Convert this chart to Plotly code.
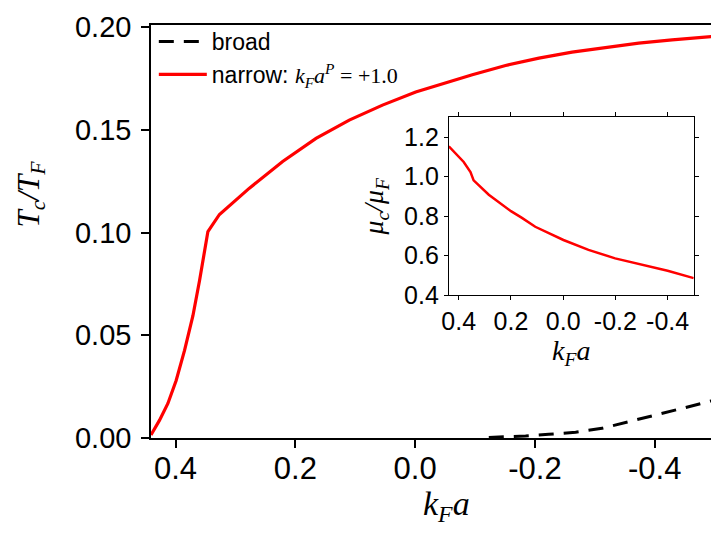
import plotly.graph_objects as go

# ---- data ----
k_narrow = [0.441, 0.4267, 0.4128, 0.399, 0.385, 0.371, 0.36, 0.3517, 0.346, 0.3267,
            0.2767, 0.2212, 0.1655, 0.11, 0.0545, -0.001, -0.04, -0.0955, -0.151,
            -0.2067, -0.262, -0.3178, -0.3733, -0.429, -0.499]
tc_narrow = [0.0015, 0.0087, 0.0168, 0.028, 0.0426, 0.0595, 0.0765, 0.091, 0.1005, 0.1088,
             0.1216, 0.1346, 0.1458, 0.1547, 0.162, 0.1684, 0.172, 0.1768, 0.1813,
             0.1849, 0.1878, 0.1902, 0.1922, 0.1938, 0.1955]

k_broad = [-0.123, -0.1845, -0.223, -0.268, -0.312, -0.357, -0.401, -0.4455, -0.499]
tc_broad = [0.0003, 0.001, 0.0018, 0.0028, 0.0047, 0.0079, 0.0111, 0.0144, 0.0184]

k_inset = [0.438, 0.381, 0.355, 0.343, 0.285, 0.2214, 0.2, 0.158, 0.107, -0.001,
           -0.097, -0.199, -0.301, -0.4, -0.5]
mu_inset = [1.153, 1.074, 1.023, 0.981, 0.908, 0.847, 0.825, 0.791, 0.746, 0.679,
            0.629, 0.586, 0.553, 0.523, 0.486]

main_yticks = [0.0, 0.05, 0.10, 0.15, 0.20]
main_yticklabels = ["0.00", "0.05", "0.10", "0.15", "0.20"]
xticks = [0.4, 0.2, 0.0, -0.2, -0.4]
xticklabels = ["0.4", "0.2", "0.0", "-0.2", "-0.4"]
inset_yticks = [0.4, 0.6, 0.8, 1.0, 1.2]
inset_yticklabels = ["0.4", "0.6", "0.8", "1.0", "1.2"]

SANS = "Liberation Sans, Arial, sans-serif"
SERIF = "Liberation Serif, Times New Roman, serif"

fig = go.Figure()
fig.add_trace(go.Scatter(x=k_broad, y=tc_broad, mode="lines", name="broad",
                         line=dict(color="black", width=3, dash="15px,10px"),
                         xaxis="x", yaxis="y"))
fig.add_trace(go.Scatter(
    x=k_narrow, y=tc_narrow, mode="lines",
    name=("narrow: <span style='font-family:Liberation Serif;font-size:22px'>"
          "<i>k</i><sub><i>F</i></sub><i>a</i><sup><i>P</i></sup> = +1.0</span>"),
    line=dict(color="#ff0000", width=3.2), xaxis="x", yaxis="y"))
fig.add_trace(go.Scatter(x=k_inset, y=mu_inset, mode="lines", showlegend=False,
                         line=dict(color="#ff0000", width=2.5), xaxis="x2", yaxis="y2"))

axcommon = dict(showgrid=False, zeroline=False, linecolor="black", tickcolor="black",
                showline=True)

# page body adds an 8px offset: figure is 711x525 so the plot lands where the reference is
fig.update_layout(
    width=711, height=525,
    margin=dict(l=143, r=3, t=14, b=95),
    paper_bgcolor="white", plot_bgcolor="white",
    font=dict(family=SANS, color="black"),
    showlegend=True,
    legend=dict(x=0.005, y=1.012, xanchor="left", yanchor="top",
                bgcolor="rgba(0,0,0,0)", borderwidth=0, itemwidth=48,
                font=dict(family=SANS, size=23, color="black"),
                tracegroupgap=0),
    xaxis=dict(**axcommon, domain=[0, 1], range=[0.441, -0.499], mirror=True,
               linewidth=1.5, ticks="outside", ticklen=8, tickwidth=1.5,
               tickvals=xticks, ticktext=xticklabels,
               tickfont=dict(family=SANS, size=31), ticklabelstandoff=-6,
               anchor="y"),
    yaxis=dict(**axcommon, domain=[0, 1], range=[0, 0.201], mirror=True,
               linewidth=1.5, ticks="outside", ticklen=8, tickwidth=1.5,
               tickvals=main_yticks, ticktext=main_yticklabels,
               tickfont=dict(family=SANS, size=29), ticklabelstandoff=4,
               anchor="x"),
    xaxis3=dict(showgrid=False, zeroline=False, overlaying="x", side="top", anchor="y",
                range=[0.441, -0.499], tickvals=xticks, ticks="inside", ticklen=7,
                tickwidth=1.5, tickcolor="black", showticklabels=False, showline=False),
    yaxis3=dict(showgrid=False, zeroline=False, overlaying="y", side="right", anchor="x",
                range=[0, 0.201], tickvals=main_yticks, ticks="inside", ticklen=7,
                tickwidth=1.5, tickcolor="black", showticklabels=False, showline=False),
    xaxis2=dict(**axcommon, domain=[0.529, 0.964], range=[0.438, -0.5], mirror="ticks",
                linewidth=1, ticks="outside", ticklen=4, tickwidth=1,
                tickvals=xticks, ticktext=xticklabels,
                tickfont=dict(family=SANS, size=25),
                title=dict(text="<i>k</i><sub><i>F</i></sub><i>a</i>",
                           font=dict(family=SERIF, size=28), standoff=6),
                anchor="y2"),
    yaxis2=dict(**axcommon, domain=[0.346, 0.7764], range=[0.4, 1.3], mirror="ticks",
                linewidth=1, ticks="outside", ticklen=4, tickwidth=1,
                tickvals=inset_yticks, ticktext=inset_yticklabels,
                tickfont=dict(family=SANS, size=25),
                title=dict(text="<i>μ</i><sub><i>c</i></sub><i>/μ</i><sub><i>F</i></sub>",
                           font=dict(family=SERIF, size=28), standoff=12),
                anchor="x2"),
    annotations=[
        dict(text="<i>k</i><sub><i>F</i></sub><i>a</i>", xref="paper", yref="paper",
             x=0.524, y=-0.165, xanchor="center", yanchor="middle", showarrow=False,
             font=dict(family=SERIF, size=34, color="black")),
        dict(text="<i>T</i><sub><i>c</i></sub><i>/T</i><sub><i>F</i></sub>",
             xref="paper", yref="paper", x=-0.213, y=0.59, xanchor="center",
             yanchor="middle", textangle=-90, showarrow=False,
             font=dict(family=SERIF, size=31, color="black")),
    ],
)

fig.write_html("out.html")
